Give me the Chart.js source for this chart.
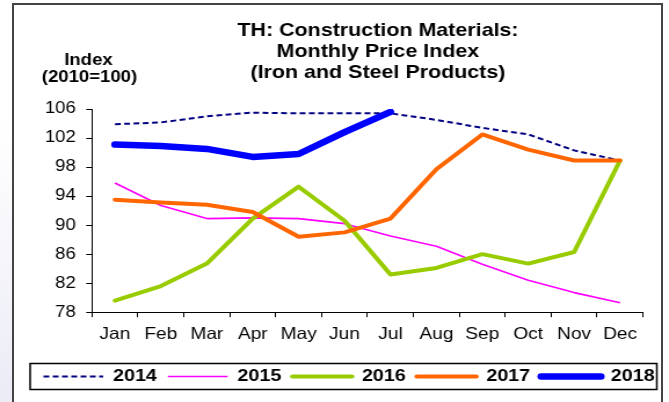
<!DOCTYPE html>
<html>
<head>
<meta charset="utf-8">
<script src="https://cdn.jsdelivr.net/npm/chart.js@4.4.1/dist/chart.umd.min.js"></script>
<style>
  html, body { margin: 0; padding: 0; background: #fff; overflow: hidden; }
  #page { position: relative; width: 669px; height: 402px; }
  #shade { position: absolute; left: 0; top: 0; width: 12px; height: 402px;
           background: linear-gradient(#fff, #fff 30%, #ebebf6); }
  #wrap { position: absolute; left: 0; top: 0; width: 577px; height: 402px;
          transform: scaleX(1.1594); transform-origin: 0 0; }
  #frame { position: absolute; left: 12px; top: 3px; width: 647px; height: 420px;
           border: 2px solid #444; border-bottom: none; }
</style>
</head>
<body>
<div id="page">
  <div id="shade"></div>
  <div id="wrap"><canvas id="chart" width="577" height="402"></canvas></div>
  <div id="frame"></div>
</div>
<script>
const months = ['Jan', 'Feb', 'Mar', 'Apr', 'May', 'Jun', 'Jul', 'Aug', 'Sep', 'Oct', 'Nov', 'Dec'];
const years = ['2014', '2015', '2016', '2017', '2018'];

const idx2014 = [103.9, 104.15, 105.0, 105.5, 105.4, 105.4, 105.4, 104.5, 103.4, 102.5, 100.3, 98.9];
const idx2015 = [95.8, 92.7, 90.9, 91.0, 90.9, 90.2, 88.5, 87.1, 84.6, 82.4, 80.7, 79.3];
const idx2016 = [79.6, 81.6, 84.7, 90.9, 95.3, 90.6, 83.2, 84.1, 86.0, 84.7, 86.3, 98.9];
const idx2017 = [93.5, 93.1, 92.8, 91.8, 88.4, 89.0, 90.9, 97.7, 102.5, 100.4, 98.9, 98.9];
const idx2018 = [101.1, 100.9, 100.5, 99.4, 99.8, 102.8, 105.6, null, null, null, null, null];

const titleLines = ['TH: Construction Materials:', 'Monthly Price Index', '(Iron and Steel Products)'];
const unitLines = ['Index', '(2010=100)'];

const FONT = '"Liberation Sans", Arial, sans-serif';
Chart.defaults.font.family = FONT;
Chart.defaults.color = '#000';

// titles, unit label and the box round the legend
const headerPlugin = {
    id: 'header',
    afterDraw(chart) {
        const ctx = chart.ctx;
        ctx.save();
        ctx.fillStyle = '#000';
        ctx.textAlign = 'center';
        ctx.textBaseline = 'middle';
        ctx.font = 'bold 18.5px ' + FONT;
        titleLines.forEach((t, i) => ctx.fillText(t, 326, 31 + i * 21.2));
        ctx.font = 'bold 16px ' + FONT;
        ctx.fillText(unitLines[0], 76.3, 60.5);
        ctx.fillText(unitLines[1], 77.2, 77.5);

        const hb = chart.legend.legendHitBoxes[0];
        const cy = hb.top + hb.height / 2;
        ctx.strokeStyle = '#000';
        ctx.lineWidth = 1.5;
        ctx.strokeRect(26, cy - 13, 540.5, 26);
        ctx.restore();
    }
};

const ctx = document.getElementById('chart').getContext('2d');
const chart = new Chart(ctx, {
    type: 'line',
    data: {
        labels: months,
        datasets: [
            {
                label: years[0],
                data: idx2014,
                borderColor: '#000080',
                backgroundColor: '#000080',
                borderWidth: 2,
                borderDash: [5, 3],
                order: 5
            },
            {
                label: years[1],
                data: idx2015,
                borderColor: '#ff00ff',
                backgroundColor: '#ff00ff',
                borderWidth: 1.6,
                order: 4
            },
            {
                label: years[2],
                data: idx2016,
                borderColor: '#99cc00',
                backgroundColor: '#99cc00',
                borderWidth: 4,
                borderCapStyle: 'round',
                order: 3
            },
            {
                label: years[3],
                data: idx2017,
                borderColor: '#ff6600',
                backgroundColor: '#ff6600',
                borderWidth: 4,
                borderCapStyle: 'round',
                order: 2
            },
            {
                label: years[4],
                data: idx2018,
                borderColor: '#0000ff',
                backgroundColor: '#0000ff',
                borderWidth: 6.5,
                borderCapStyle: 'round',
                order: 1
            },
        ]
    },
    options: {
        responsive: false,
        animation: false,
        elements: {
            point: { radius: 0, hoverRadius: 0 },
            line: { tension: 0, fill: false, borderJoinStyle: 'round' }
        },
        layout: {
            padding: { left: 28, right: 0, top: 109, bottom: 7 }
        },
        plugins: {
            title: { display: false },
            tooltip: { enabled: false },
            legend: {
                display: true,
                position: 'bottom',
                align: 'start',
                labels: {
                    usePointStyle: true,
                    pointStyle: 'line',
                    pointStyleWidth: 51.5,
                    boxWidth: 51.5,
                    padding: 9.5,
                    color: '#000',
                    font: { size: 17, weight: 'bold' },
                    sort: (a, b) => a.datasetIndex - b.datasetIndex,
                    generateLabels(chart) {
                        const items = Chart.defaults.plugins.legend.labels.generateLabels(chart);
                        items.forEach(it => {
                            const ds = chart.data.datasets[it.datasetIndex];
                            it.lineDash = ds.borderDash || [];
                            it.lineCap = ds.borderCapStyle || 'butt';
                            it.lineWidth = ds.borderWidth;
                        });
                        return items;
                    }
                }
            }
        },
        scales: {
            x: {
                offset: true,
                grid: {
                    offset: true,
                    drawOnChartArea: false,
                    drawTicks: true,
                    tickLength: 5,
                    color: '#000'
                },
                border: { display: true, color: '#000', width: 1 },
                ticks: { font: { size: 16.5 }, padding: 7, maxRotation: 0, autoSkip: false },
                afterFit(scale) { scale.height = 46.3; }
            },
            y: {
                min: 78,
                max: 106,
                grid: {
                    drawOnChartArea: false,
                    drawTicks: true,
                    tickLength: 5,
                    color: '#000'
                },
                border: { display: true, color: '#000', width: 1 },
                ticks: { stepSize: 4, font: { size: 16 }, padding: 9 },
                afterFit(scale) { scale.width = 51.35; }
            },
            // empty margin on the right of the plot
            pad: {
                type: 'linear',
                position: 'right',
                grid: { display: false, drawTicks: false },
                border: { display: false },
                ticks: { display: false },
                afterFit(scale) { scale.width = 22.4; }
            }
        }
    },
    plugins: [ headerPlugin ],
});
</script>
</body>
</html>
